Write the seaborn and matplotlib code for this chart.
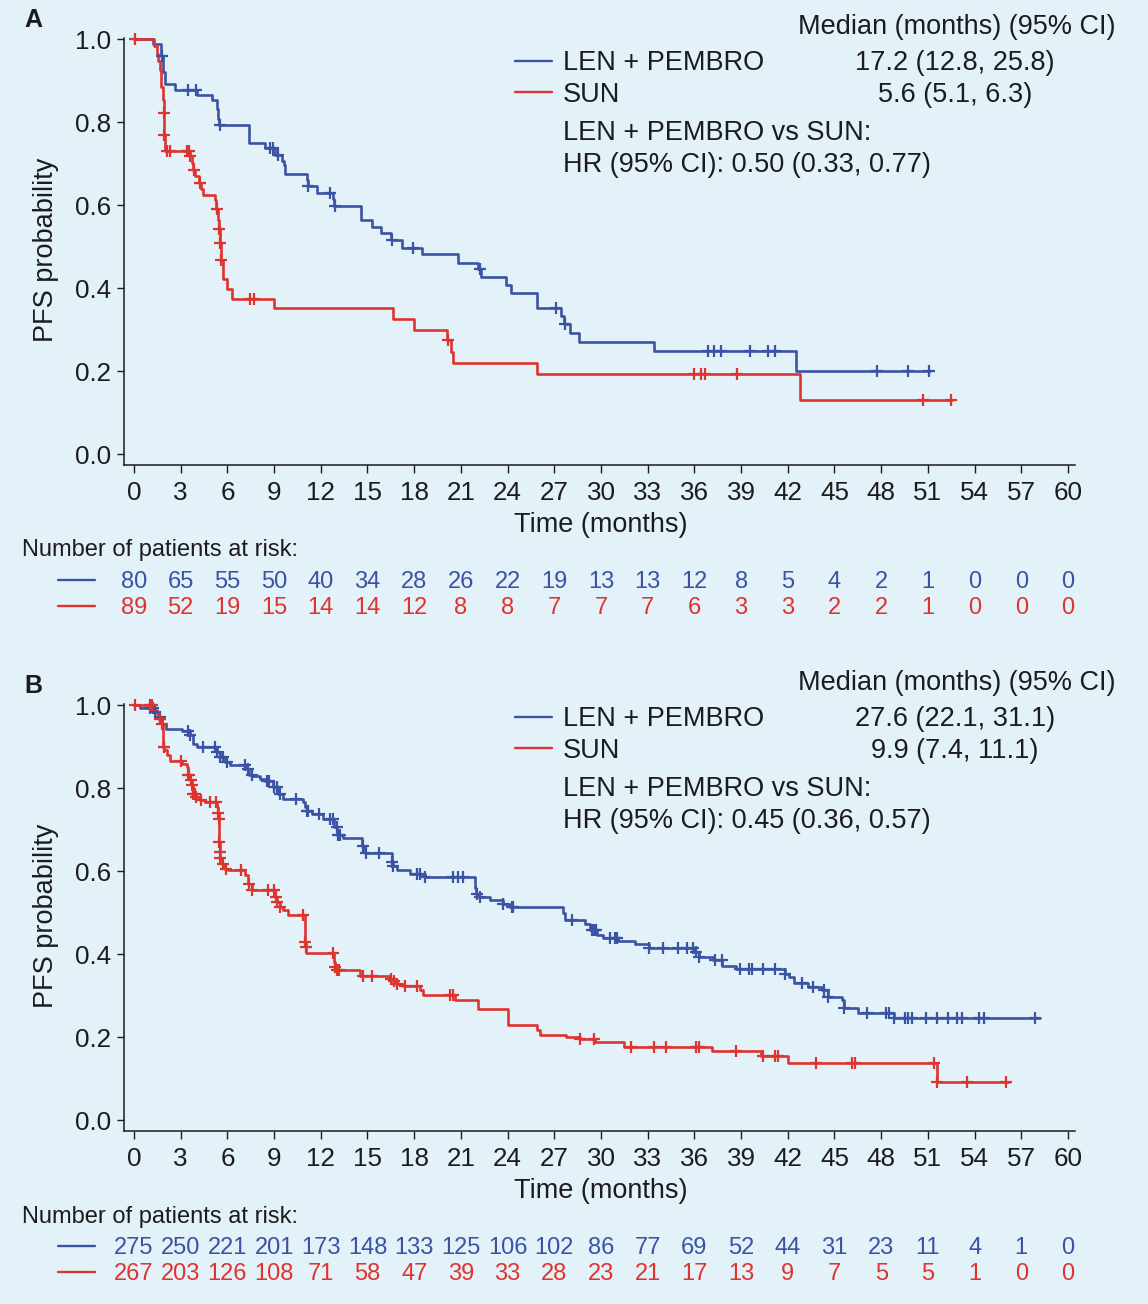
import numpy as np
import pandas as pd
import matplotlib
matplotlib.use("Agg")
import matplotlib.pyplot as plt
from matplotlib.lines import Line2D
from matplotlib.transforms import blended_transform_factory
import seaborn as sns

# ---------------- data ----------------
months_ticks = list(range(0, 61, 3))
arms = ["LEN + PEMBRO", "SUN"]

# Panel A: step times (months) and PFS probability after each step
a_len_t = [0, 1.24, 1.75, 1.85, 2.0, 2.63, 4.02, 4.99, 5.31, 5.4, 5.48, 7.38, 8.42, 9.06, 9.48,
           9.63, 9.7, 11.09, 11.15, 11.78, 12.8, 12.88, 14.56, 15.26, 15.84, 16.49, 17.2, 18.48,
           20.84, 22.12, 22.3, 23.9, 24.24, 25.86, 27.4, 27.6, 28.0, 28.57, 33.4, 42.5]
a_len_s = [1.0, 0.988, 0.961, 0.921, 0.893, 0.879, 0.865, 0.853, 0.833, 0.809, 0.793, 0.751, 0.739,
           0.720, 0.706, 0.696, 0.676, 0.660, 0.646, 0.630, 0.614, 0.598, 0.564, 0.548, 0.532, 0.517,
           0.496, 0.482, 0.461, 0.445, 0.427, 0.407, 0.389, 0.351, 0.333, 0.313, 0.292, 0.271, 0.249,
           0.200]
a_len_end = 51.15
a_len_cens = [1.8, 3.49, 3.98, 5.5, 8.74, 8.95, 9.25, 11.2, 12.59, 12.9, 16.55, 17.95, 22.2,
              27.1, 27.7, 36.85, 37.27, 37.7, 39.6, 40.7, 41.2, 47.7, 49.7, 51.1]

a_sun_t = [0, 1.3, 1.45, 1.55, 1.65, 1.75, 1.85, 1.92, 1.94, 1.97, 3.6, 3.7, 3.8, 3.9, 4.2, 4.3,
           4.41, 5.2, 5.3, 5.42, 5.45, 5.5, 5.6, 5.7, 6.0, 6.27, 8.99, 16.62, 17.99, 20.09, 20.34,
           20.5, 25.86, 42.8]
a_sun_s = [1.0, 0.984, 0.964, 0.949, 0.925, 0.885, 0.853, 0.822, 0.770, 0.731, 0.718, 0.702, 0.686,
           0.670, 0.654, 0.640, 0.624, 0.612, 0.592, 0.564, 0.542, 0.508, 0.467, 0.423, 0.399, 0.375,
           0.351, 0.325, 0.300, 0.276, 0.247, 0.220, 0.194, 0.130]
a_sun_end = 52.55
a_sun_cens = [0.07, 1.93, 1.95, 2.14, 2.3, 3.4, 3.55, 3.62, 3.85, 4.22, 5.33, 5.46, 5.52, 5.62,
              7.45, 7.71, 20.2, 36.0, 36.4, 36.7, 38.75, 50.7, 52.5]

# Panel B
b_len_t = [0, 0.39, 1.3, 1.6, 1.8, 2.05, 3.06, 3.6, 3.77, 4.03, 5.35, 5.52, 5.85, 6.17, 7.24, 7.41,
           7.67, 8.09, 8.41, 8.95, 9.27, 9.59, 10.84, 10.98, 11.09, 11.41, 12.16, 12.85, 13.05,
           13.45, 14.62, 14.84, 16.55, 16.62, 16.87, 17.73, 18.69, 21.9, 22.0, 22.18, 22.87,
           23.72, 24.15, 27.58, 27.69, 28.97, 29.3, 29.72, 30.15, 31.1, 32.2, 33.1, 36.0, 36.3,
           37.2, 37.8, 38.7, 41.8, 42.1, 42.4, 43.3, 44.2, 44.6, 45.5, 45.6, 46.5, 48.8]
b_len_s = [1.0, 0.993, 0.985, 0.972, 0.956, 0.944, 0.937, 0.928, 0.908, 0.900, 0.888, 0.875, 0.863,
           0.857, 0.846, 0.833, 0.830, 0.822, 0.817, 0.803, 0.787, 0.775, 0.766, 0.755, 0.745,
           0.739, 0.727, 0.707, 0.687, 0.681, 0.660, 0.643, 0.622, 0.612, 0.602, 0.594, 0.585,
           0.560, 0.546, 0.537, 0.530, 0.520, 0.514, 0.500, 0.482, 0.472, 0.458, 0.446, 0.440,
           0.432, 0.424, 0.414, 0.406, 0.394, 0.385, 0.371, 0.363, 0.353, 0.344, 0.331, 0.321,
           0.313, 0.297, 0.289, 0.269, 0.259, 0.245]
b_len_end = 58.2
b_len_cens = [1.0, 1.2, 1.35, 1.7, 3.49, 3.6, 4.41, 5.2, 5.35, 5.52, 5.74, 5.95, 7.13, 7.34, 7.56,
              8.52, 8.69, 8.99, 9.17, 9.38, 10.41, 11.09, 11.2, 11.9, 12.59, 12.8, 13.02, 13.12,
              13.23, 14.73, 14.9, 15.76, 16.55, 16.66, 18.16, 18.37, 18.69, 20.51, 20.83, 21.15,
              22.05, 22.2, 23.72, 24.26, 24.37, 28.12, 29.4, 29.55, 29.7, 30.6, 30.9, 31.05, 33.1,
              33.96, 34.97, 35.5, 35.9, 36.1, 36.3, 37.3, 37.75, 38.9, 39.5, 39.7, 40.4, 41.2,
              41.8, 42.9, 43.6, 44.3, 44.6, 45.6, 47.1, 48.3, 48.5, 48.8, 49.5, 49.7, 50.0, 50.9,
              51.6, 52.3, 52.9, 53.2, 54.3, 54.6, 57.9]

b_sun_t = [0, 1.24, 1.46, 1.63, 1.78, 1.85, 1.89, 1.92, 2.1, 2.31, 3.06, 3.38, 3.49, 3.6, 3.7,
           3.77, 3.98, 4.24, 4.56, 5.35, 5.40, 5.43, 5.46, 5.5, 5.54, 5.63, 5.85, 6.06, 7.13,
           7.34, 7.56, 9.06, 9.17, 9.38, 9.59, 9.91, 10.98, 11.0, 11.02, 11.05, 12.85, 12.91,
           13.02, 14.52, 16.44, 16.66, 16.87, 17.3, 18.37, 18.59, 20.63, 22.12, 24.0, 25.86,
           26.1, 27.75, 28.67, 29.6, 31.5, 37.1, 40.3, 42.0, 51.6]
b_sun_s = [1.0, 0.990, 0.980, 0.968, 0.956, 0.930, 0.900, 0.892, 0.880, 0.867, 0.859, 0.851,
           0.831, 0.819, 0.807, 0.787, 0.780, 0.771, 0.766, 0.755, 0.740, 0.726, 0.671, 0.647,
           0.631, 0.618, 0.605, 0.602, 0.590, 0.570, 0.554, 0.538, 0.526, 0.514, 0.506, 0.494,
           0.460, 0.430, 0.418, 0.402, 0.381, 0.369, 0.361, 0.348, 0.341, 0.335, 0.329, 0.324,
           0.313, 0.301, 0.289, 0.267, 0.229, 0.217, 0.206, 0.201, 0.196, 0.187, 0.177, 0.166,
           0.155, 0.137, 0.091]
b_sun_end = 56.2
b_sun_cens = [0.07, 1.06, 1.16, 1.7, 1.8, 1.9, 1.91, 3.0, 3.5, 3.55, 3.65, 3.75, 3.8, 3.9, 4.0,
              4.3, 4.9, 5.3, 5.41, 5.44, 5.47, 5.51, 5.55, 5.7, 5.9, 6.9, 7.4, 7.6, 8.63, 9.0,
              9.1, 9.2, 9.4, 10.88, 11.01, 11.03, 12.8, 12.92, 13.05, 13.2, 14.69, 15.3, 16.5,
              16.7, 16.9, 17.4, 18.16, 20.3, 20.51, 28.67, 29.55, 31.9, 33.4, 34.2, 36.1, 36.3,
              38.7, 40.4, 41.2, 41.4, 43.8, 46.1, 46.3, 51.4, 51.6, 53.5, 56.0]

a_risk_len = [80, 65, 55, 50, 40, 34, 28, 26, 22, 19, 13, 13, 12, 8, 5, 4, 2, 1, 0, 0, 0]
a_risk_sun = [89, 52, 19, 15, 14, 14, 12, 8, 8, 7, 7, 7, 6, 3, 3, 2, 2, 1, 0, 0, 0]
b_risk_len = [275, 250, 221, 201, 173, 148, 133, 125, 106, 102, 86, 77, 69, 52, 44, 31, 23, 11, 4, 1, 0]
b_risk_sun = [267, 203, 126, 108, 71, 58, 47, 39, 33, 28, 23, 21, 17, 13, 9, 7, 5, 5, 1, 0, 0]

a_median = ["17.2 (12.8, 25.8)", "5.6 (5.1, 6.3)"]
b_median = ["27.6 (22.1, 31.1)", "9.9 (7.4, 11.1)"]
a_hr = "HR (95% CI): 0.50 (0.33, 0.77)"
b_hr = "HR (95% CI): 0.45 (0.36, 0.57)"

# ---------------- style ----------------
sns.set_style("ticks")
plt.rcParams['font.family'] = ['Liberation Sans', 'DejaVu Sans']

BG = '#E3F1F9'
BLUE = '#3A53A2'
RED = '#DE3430'
TXT = '#1C1C1C'
FS = 19.5

W, H = 1148, 1304
fig = plt.figure(figsize=(W / 100, H / 100), dpi=100, facecolor=BG)


def fx(px):
    return px / W


def fy(py):
    return 1 - py / H


def km_df(times, surv, end):
    return pd.DataFrame({"t": list(times) + [end], "s": list(surv) + [surv[-1]]})


def cens_y(times, surv, cens):
    idx = np.searchsorted(np.asarray(times), np.asarray(cens), side="right") - 1
    return np.asarray(surv)[idx]


def panel(off, label, curves, medians, hr, risks, legend_off):
    ax = fig.add_axes([fx(124), fy(464.7 + off), fx(1075) - fx(124), (464.7 - 37.7) / H])
    ax.set_facecolor(BG)
    for (t, s, end, cens), col in zip(curves, [BLUE, RED]):
        sns.lineplot(data=km_df(t, s, end), x="t", y="s", drawstyle="steps-post",
                     estimator=None, sort=False, color=col, lw=1.9, ax=ax)
        sns.scatterplot(x=cens, y=cens_y(t, s, cens), marker="+", s=80, color=col,
                        linewidth=1.6, ax=ax, zorder=4, clip_on=False)
    for ln in ax.lines:
        ln.set_clip_on(False)
    ax.set_xlim(-0.642, 60.45)
    ax.set_ylim(-0.0258, 1.004)
    ax.set_xticks(months_ticks)
    ax.set_xticklabels([str(m) for m in months_ticks])
    ax.set_yticks([0, 0.2, 0.4, 0.6, 0.8, 1.0])
    ax.set_yticklabels(["0.0", "0.2", "0.4", "0.6", "0.8", "1.0"])
    ax.tick_params(axis="both", direction="out", length=5.4, width=1.0, color=TXT,
                   labelsize=18.7, labelcolor=TXT)
    ax.tick_params(axis="y", pad=4.2)
    ax.tick_params(axis="x", pad=6)
    ax.set_xlabel("")
    ax.set_ylabel("")
    for sp in ["top", "right"]:
        ax.spines[sp].set_visible(False)
    for sp in ["left", "bottom"]:
        ax.spines[sp].set_linewidth(1.1)
        ax.spines[sp].set_color(TXT)

    # panel letter and axis labels
    fig.text(fx(24), fy(27 + off), label, fontsize=18, fontweight="bold", color=TXT,
             ha="left", va="baseline")
    fig.text(fx(46), fy(250 + off), "PFS probability", fontsize=FS, color=TXT,
             rotation=90, ha="center", va="center")
    fig.text(fx(601), fy(531.5 + off), "Time (months)", fontsize=FS, color=TXT,
             ha="center", va="baseline")

    # legend block
    lo = legend_off
    fig.text(fx(1115), fy(33.5 + lo), "Median (months) (95% CI)", fontsize=FS, color=TXT,
             ha="right", va="baseline")
    for i, (name, col, med) in enumerate(zip(arms, [BLUE, RED], medians)):
        yc = [61, 92][i] + lo
        fig.add_artist(Line2D([fx(515), fx(552)], [fy(yc), fy(yc)], color=col, lw=1.7))
        fig.text(fx(563), fy(yc + 9.5), name, fontsize=FS, color=TXT, ha="left", va="baseline")
        fig.text(fx(955), fy(yc + 9.5), med, fontsize=FS, color=TXT, ha="center", va="baseline")
    fig.text(fx(563), fy(140.5 + lo), "LEN + PEMBRO vs SUN:", fontsize=FS, color=TXT,
             ha="left", va="baseline")
    fig.text(fx(563), fy(171.5 + lo), hr, fontsize=FS, color=TXT, ha="left", va="baseline")

    # numbers at risk
    fig.text(fx(22), fy(556.5 + off), "Number of patients at risk:", fontsize=17, color=TXT,
             ha="left", va="baseline")
    tr = blended_transform_factory(ax.transData, fig.transFigure)
    for row, col, yc in zip(risks, [BLUE, RED], [580, 606]):
        fig.add_artist(Line2D([fx(58), fx(95)], [fy(yc + off), fy(yc + off)], color=col, lw=1.7))
        for m, n in zip(months_ticks, row):
            ax.text(m, fy(yc + off + 8.3), str(n), transform=tr, fontsize=17, color=col,
                    ha="center", va="baseline", clip_on=False)
    return ax


panel(0, "A",
      [(a_len_t, a_len_s, a_len_end, a_len_cens), (a_sun_t, a_sun_s, a_sun_end, a_sun_cens)],
      a_median, a_hr, [a_risk_len, a_risk_sun], 0)
panel(666, "B",
      [(b_len_t, b_len_s, b_len_end, b_len_cens), (b_sun_t, b_sun_s, b_sun_end, b_sun_cens)],
      b_median, b_hr, [b_risk_len, b_risk_sun], 656)

fig.savefig("out.png", dpi=100, facecolor=BG)
